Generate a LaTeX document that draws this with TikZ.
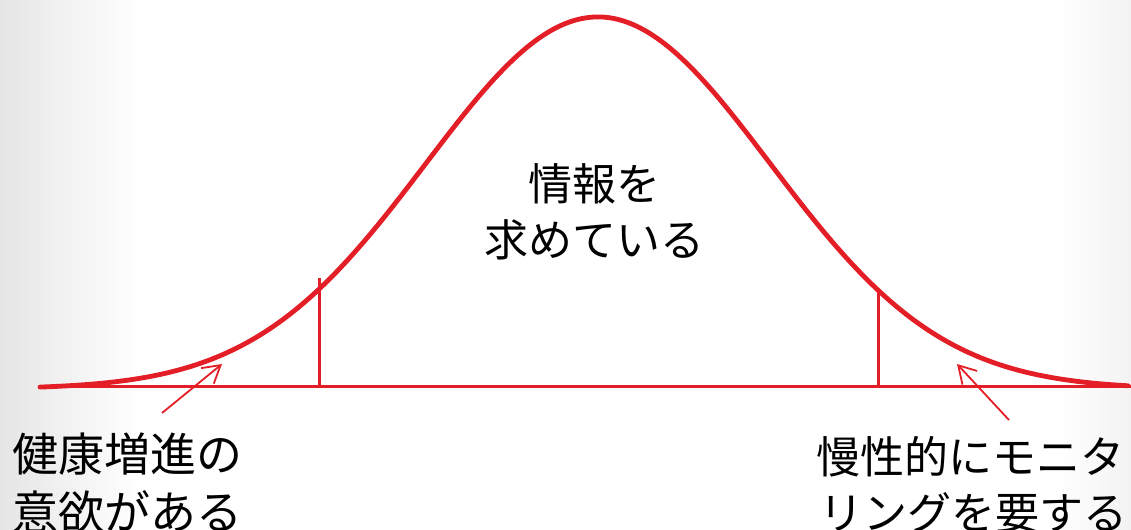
\documentclass[tikz,border=0pt]{standalone}
\usepackage{fontspec}
\newfontfamily\jp{Noto Sans CJK JP}
\usetikzlibrary{arrows.meta}
\definecolor{cred}{RGB}{228,30,38}
\tikzset{
  jptext/.style={font=\jp\fontsize{22}{28}\selectfont, inner sep=0pt, text=black},
  redline/.style={draw=cred, line width=1.5pt},
  bell/.style={draw=cred, line width=2.4pt, line cap=round},
  pointer/.style={draw=cred, line width=0.9pt, -{Straight Barb[length=8.5pt, width=10pt]}}
}
\begin{document}
\begin{tikzpicture}[x=0.5pt, y=-0.5pt]
\useasboundingbox (0,0) rectangle (1131,530);
\fill[white] (0,0) rectangle (1131,530);
\shade[left color=black!10, right color=white] (0,0) rectangle (140,530);
\shade[left color=white, right color=black!5] (1060,0) rectangle (1131,530);
% baseline and verticals
\coordinate (b0) at (47,386);
\coordinate (b1) at (1131,386);
\coordinate (v1b) at (319,386);
\coordinate (v1t) at (319,278);
\coordinate (v2b) at (878,386);
\coordinate (v2t) at (878,293);
\draw[redline] (b0) -- (b1);
\draw[redline] (v1b) -- (v1t);
\draw[redline] (v2b) -- (v2t);
% bell curve
\draw[bell] plot[domain=40:1128, samples=240, smooth] (\x, {389 - 372*exp(-0.5*((\x-598)/172)^2)});
% texts
\node[jptext, anchor=base] (c1) at (594,200) {情報を};
\node[jptext, anchor=base] (c2) at (594,256) {求めている};
\node[jptext, anchor=base west, font=\jp\fontsize{23}{28}\selectfont] (l1) at (12,471) {健康増進の};
\node[jptext, anchor=base west, font=\jp\fontsize{23}{28}\selectfont] (l2) at (12,529) {意欲がある};
\node[jptext, anchor=base west] (r1) at (816,473) {慢性的にモニタ};
\node[jptext, anchor=base west] (r2) at (819,529) {リングを要する};
% pointers
\coordinate (lt) at (162,413);
\coordinate (lh) at (222,364);
\coordinate (rt) at (1009,420);
\coordinate (rh) at (957,364);
\draw[pointer] (lt) -- (lh);
\draw[pointer] (rt) -- (rh);
\end{tikzpicture}
\end{document}
